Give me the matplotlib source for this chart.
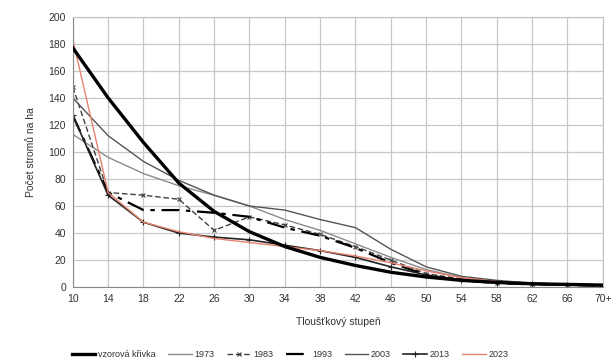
import matplotlib
matplotlib.use("Agg")
import matplotlib.pyplot as plt
import numpy as np

# diameter classes (tloustkove stupne)
categories = ['10', '14', '18', '22', '26', '30', '34', '38', '42', '46',
              '50', '54', '58', '62', '66', '70+']

vzor = [177, 140, 107, 77, 56, 41, 30, 22, 16, 11, 7.5, 5, 3.5, 2.5, 2, 1.5]
y1973 = [113, 96, 84, 75, 68, 60, 50, 42, 32, 22, 13, 7, 4, 3, 2, 1]
y1983 = [148, 70, 68, 65, 42, 52, 46, 39, 30, 20, 10, 6, 3, 2, 1.5, 1]
y1993 = [127, 70, 57, 57, 55, 52, 44, 38, 29, 18, 9, 5, 3, 2, 1.5, 1]
y2003 = [140, 112, 93, 79, 68, 60, 57, 50, 44, 28, 15, 8, 5, 3, 2, 1.5]
y2013 = [127, 68, 48, 40, 37, 35, 31, 27, 22, 15, 9, 5, 3, 2, 1.5, 1]
y2023 = [183, 70, 48, 41, 36, 33, 30, 27, 23, 18, 12, 7, 4, 3, 2, 1.5]

plt.rcParams['font.family'] = ['Liberation Sans', 'DejaVu Sans']

fig = plt.figure(figsize=(6.12, 3.58), dpi=100)
ax = fig.add_axes([0.119, 0.198, 0.866, 0.755])

x = np.arange(len(categories))

ax.plot(x, vzor, color='black', lw=2.4, label='vzorová křivka', zorder=5)
ax.plot(x, y1973, color='#8a8a8a', lw=1.0, label='1973')
ax.plot(x, y1983, color='#404040', lw=1.0, ls=(0, (4, 2)), marker='x', ms=3,
        markeredgewidth=0.8, label='1983')
ax.plot(x, y1993, color='black', lw=1.6, ls=(0, (8, 3, 2, 3)), label='1993')
ax.plot(x, y2003, color='#555555', lw=1.0, label='2003')
ax.plot(x, y2013, color='#222222', lw=1.2, marker='+', ms=4, markeredgewidth=0.8,
        label='2013')
ax.plot(x, y2023, color='#e8826e', lw=1.0, label='2023')

ax.set_xlim(0, len(categories) - 1)
ax.set_ylim(0, 200)
ax.set_xticks(x)
ax.set_xticklabels(categories)
ax.set_yticks(np.arange(0, 201, 20))
ax.tick_params(labelsize=7.5, length=0, pad=5, colors='#333333')
ax.grid(True, color='#c8c8c8', lw=0.9)
ax.set_axisbelow(True)
for s in ax.spines.values():
    s.set_color('#c0c0c0')
    s.set_linewidth(0.8)
ax.spines['left'].set_color('#888888')
ax.spines['bottom'].set_color('#888888')

ax.set_xlabel('Tloušťkový stupeň', fontsize=7.5, color='#333333', labelpad=9)
ax.set_ylabel('Počet stromů na ha', fontsize=7.5, color='#333333', labelpad=9)

fig.legend(loc='lower center', bbox_to_anchor=(0.474, -0.025), ncol=7, frameon=False,
           fontsize=6.5, handlelength=2.6, handletextpad=0.3, columnspacing=1.4,
           labelcolor='#333333')

fig.savefig('out.png', dpi=100)
